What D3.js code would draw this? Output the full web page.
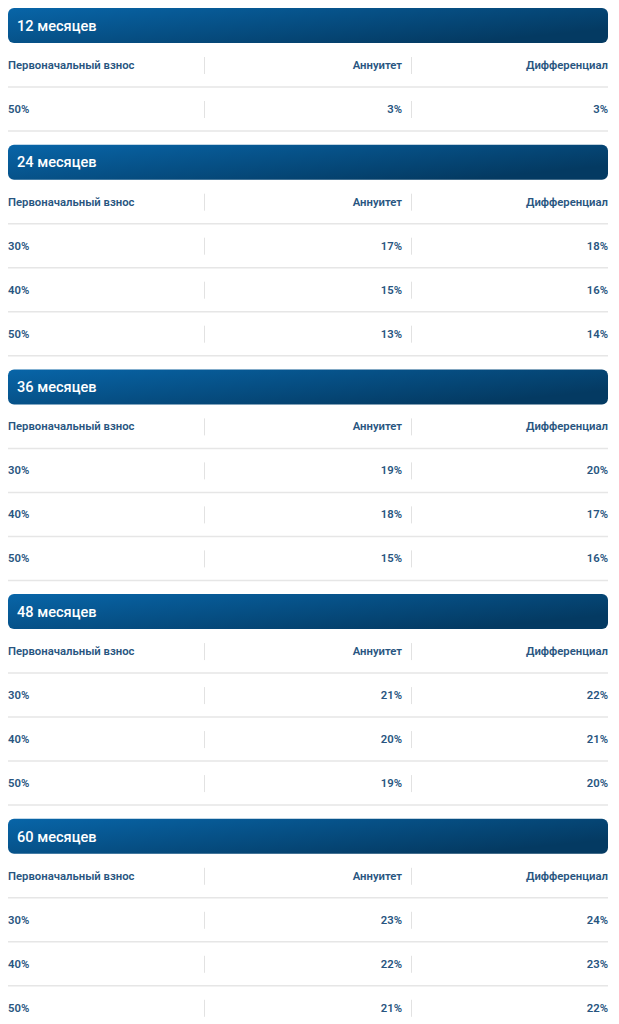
<!DOCTYPE html>
<meta charset="utf-8">
<style>
body { margin: 0; background: #fff; }
svg { display: block; font-family: Roboto, "Noto Sans", sans-serif; }
.title { fill: #fff; font-size: 14.6px; font-weight: 500; }
.cell { fill: #285580; font-size: 11.3px; font-weight: 600; }
.hline { stroke: #e6e6e6; stroke-width: 1.5; }
.vline { stroke: #e2e2e2; stroke-width: 1; }
</style>
<svg width="619" height="1024"></svg>
<script src="https://d3js.org/d3.v7.min.js"></script>
<script>

// data
var terms = ["12 месяцев", "24 месяцев", "36 месяцев", "48 месяцев", "60 месяцев"];
var columns = ["Первоначальный взнос", "Аннуитет", "Дифференциал"];
var downPayments = [
  ["50%"],
  ["30%", "40%", "50%"],
  ["30%", "40%", "50%"],
  ["30%", "40%", "50%"],
  ["30%", "40%", "50%"]
];
var annuity = [
  [3],
  [17, 15, 13],
  [19, 18, 15],
  [21, 20, 19],
  [23, 22, 21]
];
var differential = [
  [3],
  [18, 16, 14],
  [20, 17, 16],
  [22, 21, 20],
  [24, 23, 22]
];

var svg = d3.select("svg");

var left = 8, right = 608,
    barH = 35, rowH = 44, gap = 13.7;

// text anchor x for each column, and separators
var colX = d3.scaleOrdinal().domain([0, 1, 2]).range([left, 402, right]);
var colAnchor = ["start", "end", "end"];
var sepX = [204.5, 411.5];

var defs = svg.append("defs");
var grad = defs.append("linearGradient")
    .attr("id", "hdr")
    .attr("x1", "0%").attr("y1", "0%")
    .attr("x2", "100%").attr("y2", "60%");
grad.append("stop").attr("offset", "0%").attr("stop-color", "#0865a8");
grad.append("stop").attr("offset", "100%").attr("stop-color", "#043a62");

var fmt = function(v) { return v + "%"; };

var y0 = 8;
terms.forEach(function(term, i) {
  var rows = [columns].concat(downPayments[i].map(function(d, j) {
    return [d, fmt(annuity[i][j]), fmt(differential[i][j])];
  }));

  var g = svg.append("g").attr("transform", "translate(0," + y0 + ")");

  g.append("rect")
      .attr("x", left)
      .attr("y", 0)
      .attr("width", right - left)
      .attr("height", barH)
      .attr("rx", 6)
      .attr("fill", "url(#hdr)");

  g.append("text")
      .attr("class", "title")
      .attr("x", left + 9)
      .attr("y", barH / 2)
      .attr("dy", "0.36em")
      .text(term);

  var y = d3.scaleLinear()
      .domain([0, rows.length])
      .range([barH, barH + rowH * rows.length]);

  var row = g.selectAll("g.row")
    .data(rows)
    .enter().append("g")
      .attr("class", "row")
      .attr("transform", function(d, k) { return "translate(0," + y(k) + ")"; });

  row.append("line")
      .attr("class", "hline")
      .attr("x1", left).attr("x2", right)
      .attr("y1", rowH).attr("y2", rowH);

  row.selectAll("line.vline")
    .data(sepX)
    .enter().append("line")
      .attr("class", "vline")
      .attr("x1", function(d) { return d; })
      .attr("x2", function(d) { return d; })
      .attr("y1", rowH / 2 - 8)
      .attr("y2", rowH / 2 + 9);

  row.selectAll("text")
    .data(function(d) { return d; })
    .enter().append("text")
      .attr("class", "cell")
      .attr("x", function(d, c) { return colX(c); })
      .attr("y", rowH / 2)
      .attr("dy", "0.36em")
      .attr("text-anchor", function(d, c) { return colAnchor[c]; })
      .text(function(d) { return d; });

  y0 += barH + rowH * rows.length + gap;
});

</script>
